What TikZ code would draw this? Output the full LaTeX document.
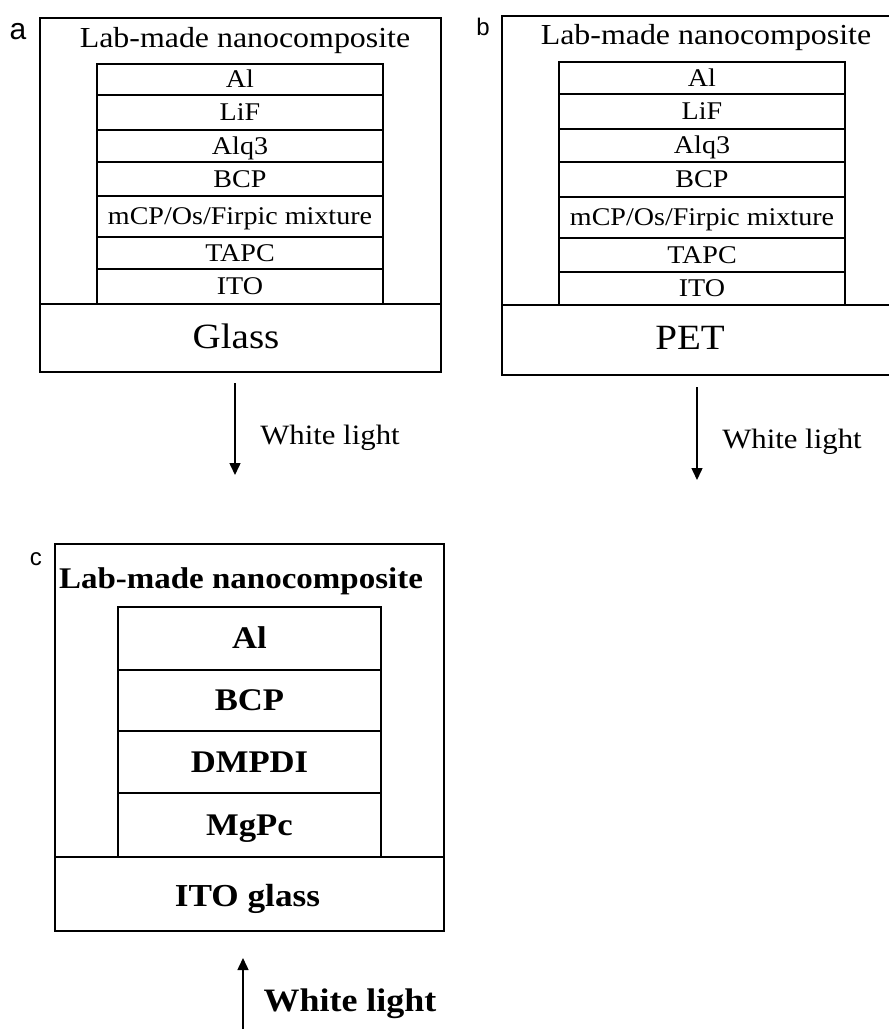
\documentclass[tikz,border=0pt]{standalone}
\usepackage{fontspec}
\setmainfont{Liberation Serif}[FakeStretch=1.1]
\newfontfamily\lblfont{Liberation Sans}
\usetikzlibrary{arrows.meta}
\begin{document}
\begin{tikzpicture}[x=1pt,y=-1pt,
  frame/.style={draw, line width=1.8pt, inner sep=0pt},
  layer/.style={draw, line width=1.8pt, inner sep=0pt, text depth=0pt},
  txt/.style={inner sep=0pt, text depth=0pt},
  laba/.style={layer, minimum width=286pt, text height=16.7pt, font=\fontsize{25.5pt}{27pt}\selectfont},
  labc/.style={layer, minimum width=263pt, text height=20.6pt, font=\bfseries\fontsize{31.5pt}{33pt}\selectfont},
  titlen/.style={txt, text height=19pt, font=\fontsize{29pt}{31pt}\selectfont},
  subn/.style={txt, text height=23.3pt, font=\fontsize{35.5pt}{37pt}\selectfont},
  wln/.style={txt, text height=18.3pt, font=\fontsize{28pt}{30pt}\selectfont},
  panlbl/.style={inner sep=0pt, anchor=base, font=\lblfont\fontsize{#1pt}{#1pt}\selectfont},
  light/.style={line width=1.5pt, -{Triangle[length=12pt,width=11pt]}}
]
\useasboundingbox (0,0) rectangle (889,1029);
\clip (0,0) rectangle (889,1029);

% ---------- panel a ----------
\node[panlbl=30] (la) at (18,39) {a};
\node[frame, minimum width=401pt, minimum height=286pt] (afr) at (240.5,161) {};
\node[frame, minimum width=401pt, minimum height=68pt] (asub) at (240.5,338) {};
\node[subn] (aglass) at (236,336.5) {Glass};
\node[titlen] (atitle) at (245,37.5) {Lab-made nanocomposite};
\node[laba, minimum height=31pt] (a1) at (240,79.5) {Al};
\node[laba, minimum height=35pt] (a2) at (240,112.5) {LiF};
\node[laba, minimum height=32pt] (a3) at (240,146) {Alq3};
\node[laba, minimum height=34pt] (a4) at (240,179) {BCP};
\node[laba, minimum height=41pt] (a5) at (240,216.5) {mCP/Os/Firpic mixture};
\node[laba, minimum height=32pt] (a6) at (240,253) {TAPC};
\node[laba, minimum height=35pt] (a7) at (240,286.5) {ITO};
\coordinate (as) at (235,383);
\coordinate (ae) at (235,475);
\draw[light] (as) -- (ae);
\node[wln] (awl) at (330,435) {White light};

% ---------- panel b ----------
\node[panlbl=24] (lb) at (483,35) {b};
\node[frame, minimum width=438pt, minimum height=289pt] (bfr) at (721,160.5) {};
\node[frame, minimum width=438pt, minimum height=70pt] (bsub) at (721,340) {};
\node[subn] (bpet) at (690,338) {PET};
\node[titlen] (btitle) at (706,35) {Lab-made nanocomposite};
\node[laba, minimum height=32pt] (b1) at (702,78) {Al};
\node[laba, minimum height=35pt] (b2) at (702,111.5) {LiF};
\node[laba, minimum height=33pt] (b3) at (702,145.5) {Alq3};
\node[laba, minimum height=35pt] (b4) at (702,179.5) {BCP};
\node[laba, minimum height=41pt] (b5) at (702,217.5) {mCP/Os/Firpic mixture};
\node[laba, minimum height=34pt] (b6) at (702,255) {TAPC};
\node[laba, minimum height=33pt] (b7) at (702,288.5) {ITO};
\coordinate (bs) at (697,387);
\coordinate (be) at (697,480);
\draw[light] (bs) -- (be);
\node[wln] (bwl) at (792,439) {White light};

% ---------- panel c ----------
\node[panlbl=24] (lc) at (36,565) {c};
\node[frame, minimum width=389pt, minimum height=313pt] (cfr) at (249.5,700.5) {};
\node[frame, minimum width=389pt, minimum height=74pt] (csub) at (249.5,894) {};
\node[txt, text height=21pt, font=\bfseries\fontsize{32pt}{34pt}\selectfont] (cito) at (247.5,896) {ITO glass};
\node[txt, text height=19.7pt, font=\bfseries\fontsize{30pt}{32pt}\selectfont] (ctitle) at (241,579) {Lab-made nanocomposite};
\node[labc, minimum height=63pt] (c1) at (249.5,638.5) {Al};
\node[labc, minimum height=61pt] (c2) at (249.5,700.5) {BCP};
\node[labc, minimum height=62pt] (c3) at (249.5,762) {DMPDI};
\node[labc, minimum height=64pt] (c4) at (249.5,825) {MgPc};
\coordinate (cs) at (243,1040);
\coordinate (ce) at (243,958);
\draw[light] (cs) -- (ce);
\node[txt, text height=21.4pt, font=\bfseries\fontsize{32.7pt}{34pt}\selectfont] (cwl) at (350,1001) {White light};
\end{tikzpicture}
\end{document}
